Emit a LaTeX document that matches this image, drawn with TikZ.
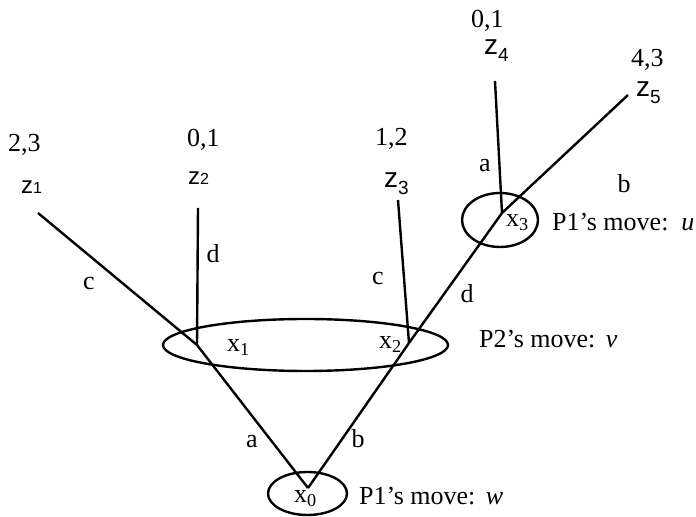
\documentclass[tikz,border=0pt]{standalone}
\usepackage{fontspec}
\setmainfont{Liberation Serif}
\setsansfont{Liberation Sans}
\usetikzlibrary{shapes.geometric}

\newcommand{\zflat}[1]{{\sffamily\fontsize{12}{14}\selectfont z{\fontsize{8}{9}\selectfont #1}}}
\newcommand{\zlow}[1]{{\sffamily\fontsize{14}{16}\selectfont z\raisebox{-0.22em}{\fontsize{9.5}{10}\selectfont #1}}}

\begin{document}
\begin{tikzpicture}[x=0.5pt, y=-0.5pt, line width=1.2pt,
  every node/.style={font=\fontsize{13}{15}\selectfont, inner sep=0pt},
  infoset/.style={draw, ellipse, line width=1.2pt},
  lbl/.style={anchor=base}, txt/.style={anchor=base west}]
	\useasboundingbox (0,0) rectangle (696,517);
	% decision points and branch ends
	\coordinate (x0) at (308,488);
	\coordinate (x1) at (197,345);
	\coordinate (x2) at (409,343);
	\coordinate (x3) at (502,213);
	\coordinate (e1) at (38,213);
	\coordinate (e2) at (198,208);
	\coordinate (e3) at (398,200);
	\coordinate (e4) at (495,81);
	\coordinate (e5) at (628,95);
	% information sets
	\node[infoset, minimum width=39.5pt, minimum height=21.5pt] (set0) at (307.5,493.5) {};
	\node[infoset, minimum width=142.5pt, minimum height=26pt] (set12) at (305.5,345) {};
	\node[infoset, minimum width=38pt, minimum height=27pt] (set3) at (500,220) {};
	% branches
	\draw (x0) -- (x1);
	\draw (x0) -- (x2);
	\draw (x1) -- (e1);
	\draw (x1) -- (e2);
	\draw (x2) -- (e3);
	\draw (x2) -- (x3);
	\draw (x3) -- (e4);
	\draw (x3) -- (e5);
	\node[lbl] (ba0) at (252,448) {a};
	\node[lbl] (bb0) at (358,448) {b};
	\node[lbl] (bc1) at (89,290) {c};
	\node[lbl] (bd1) at (213,263) {d};
	\node[lbl] (bc2) at (378,285) {c};
	\node[lbl] (bd2) at (467,303) {d};
	\node[lbl] (ba3) at (485,172) {a};
	\node[lbl] (bb3) at (624,193) {b};
	% node names
	\node[txt] (lx0) at (293,503) {x\textsubscript{0}};
	\node[txt] (lx1) at (226,352) {x\textsubscript{1}};
	\node[txt] (lx2) at (378,349) {x\textsubscript{2}};
	\node[txt] (lx3) at (505,227) {x\textsubscript{3}};
	\node[txt] (mv0) at (358,505) {P1’s move:\hspace{0.4em}\textit{w}};
	\node[txt] (mv12) at (478,348) {P2’s move:\hspace{0.4em}\textit{v}};
	\node[txt] (mv3) at (551,231) {P1’s move:\hspace{0.5em}\textit{u}};
	% outcomes and payoffs
	\node[txt] (z1) at (20,194) {\zflat{1}};
	\node[txt] (z2) at (187,185) {\zflat{2}};
	\node[txt] (z3) at (383,188) {\zlow{3}};
	\node[txt] (z4) at (483,55) {\zlow{4}};
	\node[txt] (z5) at (635,97) {\zlow{5}};
	\node[txt] (p1) at (7,152) {2,3};
	\node[txt] (p2) at (186,147) {0,1};
	\node[txt] (p3) at (374,146) {1,2};
	\node[txt] (p4) at (470,28) {0,1};
	\node[txt] (p5) at (630,67) {4,3};
\end{tikzpicture}
\end{document}
